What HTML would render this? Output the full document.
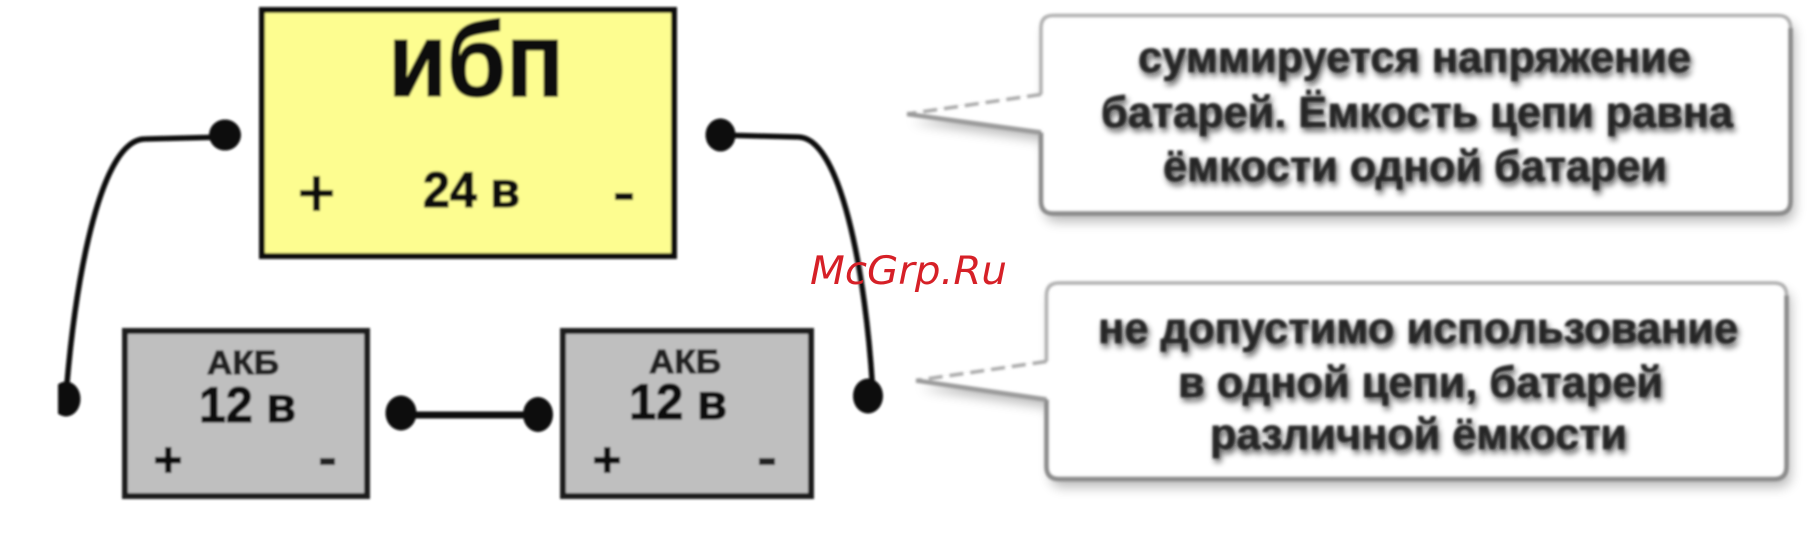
<!DOCTYPE html>
<html lang="ru">
<head>
<meta charset="utf-8">
<style>
html,body{margin:0;padding:0;background:#fff;width:1807px;height:540px;overflow:hidden}
svg{display:block}
.b{font-family:"Liberation Sans","DejaVu Sans",sans-serif;font-weight:bold;fill:#111;stroke:#111;stroke-width:1.2px}
.c{font-family:"Liberation Sans","DejaVu Sans",sans-serif;font-weight:bold;fill:#262626;stroke:#262626;stroke-width:.7px;font-size:44px}
.w{font-family:"DejaVu Sans","Liberation Sans",sans-serif;font-style:italic;fill:#d62027;font-size:39px}
</style>
</head>
<body>
<svg width="1807" height="540" viewBox="0 0 1807 540" xmlns="http://www.w3.org/2000/svg">
<defs>
<filter id="s" x="-5%" y="-5%" width="110%" height="110%"><feGaussianBlur stdDeviation="1.1"/></filter>
<filter id="t" x="-5%" y="-20%" width="110%" height="140%">
<feGaussianBlur in="SourceAlpha" stdDeviation="3.2"/><feOffset dx="2" dy="4"/>
<feComponentTransfer result="sh"><feFuncA type="linear" slope="0.65"/></feComponentTransfer>
<feGaussianBlur in="SourceGraphic" stdDeviation="1.2" result="tx"/>
<feMerge><feMergeNode in="sh"/><feMergeNode in="tx"/></feMerge>
</filter>
<filter id="sh" x="-5%" y="-10%" width="110%" height="125%">
<feGaussianBlur in="SourceAlpha" stdDeviation="6"/><feOffset dx="4" dy="8"/>
<feComponentTransfer result="o"><feFuncA type="linear" slope="0.28"/></feComponentTransfer>
<feMerge><feMergeNode in="o"/><feMergeNode in="SourceGraphic"/></feMerge>
</filter>
<filter id="l" x="-5%" y="-10%" width="110%" height="120%"><feGaussianBlur stdDeviation="1.4"/></filter>
<clipPath id="cl"><rect x="58" y="340" width="40" height="90"/></clipPath>
</defs>

<g filter="url(#s)">
<rect x="262" y="10" width="412" height="246" fill="#fdfd90" stroke="#111" stroke-width="6"/>
<rect x="125" y="331" width="242" height="165" fill="#bfbfbf" stroke="#1c1c1c" stroke-width="6"/>
<rect x="563" y="331" width="248" height="165" fill="#bfbfbf" stroke="#1c1c1c" stroke-width="6"/>

<text class="b" x="388" y="96" font-size="106" textLength="176" lengthAdjust="spacingAndGlyphs">ибп</text>
<text class="b" x="423" y="207" font-size="50" textLength="97" lengthAdjust="spacingAndGlyphs">24 в</text>
<rect x="300" y="190" width="33" height="6.500" fill="#111"/>
<rect x="313" y="176" width="7" height="35" fill="#111"/>
<rect x="615" y="193" width="18" height="7" fill="#111"/>

<text class="b" x="207" y="374" font-size="33" textLength="72" lengthAdjust="spacingAndGlyphs" style="fill:#222;stroke:#222">АКБ</text>
<text class="b" x="199" y="422" font-size="50" textLength="97" lengthAdjust="spacingAndGlyphs">12 в</text>
<rect x="155" y="457" width="26" height="6.500" fill="#111"/>
<rect x="165" y="447" width="6.500" height="26" fill="#111"/>
<rect x="320" y="458" width="15" height="7" fill="#222"/>

<text class="b" x="649" y="373" font-size="33" textLength="72" lengthAdjust="spacingAndGlyphs" style="fill:#222;stroke:#222">АКБ</text>
<text class="b" x="629" y="419" font-size="50" textLength="98" lengthAdjust="spacingAndGlyphs">12 в</text>
<rect x="594" y="457" width="26" height="6.500" fill="#111"/>
<rect x="604" y="447" width="6.500" height="26" fill="#111"/>
<rect x="759" y="458" width="16" height="7" fill="#222"/>

<path d="M225 137 L145 139 C102 139 76 270 66 395" fill="none" stroke="#111" stroke-width="5.500"/>
<path d="M720 135 L798 137 C840 137 866 270 873 395" fill="none" stroke="#111" stroke-width="5.500"/>
<ellipse cx="225" cy="135" rx="16" ry="15.500" fill="#080808"/>
<ellipse cx="720.500" cy="135" rx="15" ry="16.500" fill="#080808"/>
<ellipse cx="66" cy="399" rx="14.500" ry="17.500" fill="#080808" clip-path="url(#cl)"/>
<ellipse cx="868" cy="396" rx="15" ry="17.500" fill="#080808"/>
<ellipse cx="401" cy="413" rx="15.500" ry="17.500" fill="#080808"/>
<ellipse cx="538" cy="414.500" rx="15" ry="17.500" fill="#080808"/>
<rect x="405" y="411.500" width="130" height="7" fill="#111"/>
</g>

<path d="M1053 15.500 H1778 Q1790.500 15.500 1790.500 28 V201 Q1790.500 213.500 1778 213.500 H1053 Q1041 213.500 1041 201 V132.500 L907 114 L1041 94.500 V28 Q1041 15.500 1053 15.500 Z" fill="#fff" filter="url(#sh)"/>
<path d="M1053 283 H1774 Q1786.500 283 1786.500 295.500 V466.500 Q1786.500 479 1774 479 H1059 Q1046.500 479 1046.500 466.500 V399.500 L916 380.500 L1046.500 361.500 V295.500 Q1046.500 283 1053 283 Z" fill="#fff" filter="url(#sh)"/>
<g fill="none" filter="url(#l)" stroke-width="3.500">
<path d="M1041 132.500 V201 Q1041 213.500 1053 213.500 H1778 Q1790.500 213.500 1790.500 201 V28" stroke="#8a8a8a" stroke-width="4.500"/>
<path d="M1790.500 28 Q1790.500 15.500 1778 15.500 H1053 Q1041 15.500 1041 28 V94.500" stroke="#b0b0b0"/>
<path d="M1041 94.500 L907 114" stroke="#aaa" stroke-dasharray="14 7"/>
<path d="M907 114 L1041 132.500" stroke="#9a9a9a" stroke-width="4.500"/>
<path d="M1046.500 399.500 V466.500 Q1046.500 479 1059 479 H1774 Q1786.500 479 1786.500 466.500 V295.500" stroke="#8a8a8a" stroke-width="4.500"/>
<path d="M1786.500 295.500 Q1786.500 283 1774 283 H1059 Q1046.500 283 1046.500 295.500 V361.500" stroke="#b0b0b0"/>
<path d="M1046.500 361.500 L916 380.500" stroke="#aaa" stroke-dasharray="14 7"/>
<path d="M916 380.500 L1046.500 399.500" stroke="#9a9a9a" stroke-width="4.500"/>
</g>

<g filter="url(#t)">
<text class="c" x="1138" y="72" textLength="553" lengthAdjust="spacingAndGlyphs">суммируется напряжение</text>
<text class="c" x="1101" y="127" textLength="632" lengthAdjust="spacingAndGlyphs">батарей. Ёмкость цепи равна</text>
<text class="c" x="1163" y="181" textLength="504" lengthAdjust="spacingAndGlyphs">ёмкости одной батареи</text>
<text class="c" x="1098" y="343" textLength="640" lengthAdjust="spacingAndGlyphs">не допустимо использование</text>
<text class="c" x="1178" y="397" textLength="485" lengthAdjust="spacingAndGlyphs">в одной цепи, батарей</text>
<text class="c" x="1210" y="449" textLength="417" lengthAdjust="spacingAndGlyphs">различной ёмкости</text>
</g>

<text class="w" x="810" y="284" textLength="197" lengthAdjust="spacingAndGlyphs">McGrp.Ru</text>
</svg>
</body>
</html>
